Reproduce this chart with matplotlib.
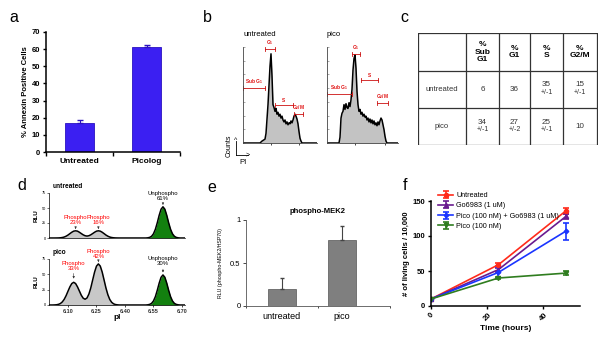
import numpy as np
import matplotlib.pyplot as plt

plt.rcParams['font.family'] = ['Liberation Sans', 'DejaVu Sans']
plt.rcParams['mathtext.default'] = 'regular'

W, H = 600, 338

# ---------------- data ----------------
# a: annexin
annexin_groups = ['Untreated', 'Picolog']
annexin_pct = [17, 61.5]
annexin_err = [1.8, 1.2]

# b: cell cycle histograms (PI channel, counts)
untr_ch = [0, 17, 19, 22, 23, 25, 27, 28, 29, 30, 31, 32, 33, 34, 35, 36, 37, 38, 39, 40,
           41, 42, 43, 44, 45, 46, 47, 48, 49, 50, 51, 52, 53, 54, 55, 56, 57, 58, 59, 74]
untr_cnt = [0, 0, 2, 4, 10, 40, 80, 93, 70, 40, 37, 33, 36, 30, 32, 28, 30, 26, 28, 24,
            22, 24, 20, 22, 19, 21, 20, 23, 21, 24, 28, 30, 28, 25, 20, 12, 5, 2, 0, 0]
pico_ch = [0, 12, 13, 14, 15, 16, 17, 18, 19, 20, 21, 22, 23, 24, 25, 26, 27, 28, 29, 30,
           31, 32, 33, 34, 35, 36, 37, 38, 39, 40, 41, 42, 43, 44, 45, 46, 47, 48, 49, 50,
           51, 52, 53, 54, 55, 56, 57, 58, 59, 60, 71]
pico_cnt = [0, 0, 6, 26, 31, 33, 40, 35, 41, 37, 36, 42, 38, 45, 56, 76, 88, 92, 78, 54,
            40, 33, 35, 30, 32, 28, 30, 27, 28, 24, 26, 22, 25, 21, 24, 20, 23, 19, 21, 18,
            22, 19, 23, 26, 24, 19, 14, 7, 2, 0, 0]
# gates: label, channel start, channel end, level
untr_gates = [('Sub G$_1$', 0, 22, 57), ('G$_1$', 22, 32, 98), ('S', 32, 50, 40), ('G$_2$/M', 51, 60, 30)]
pico_gates = [('Sub G$_1$', 0, 25, 51), ('G$_1$', 25, 33, 93), ('S', 34, 51, 66), ('G$_2$/M', 50, 61, 42)]

# c: table
tab_cols = ['%\nSub\nG1', '%\nG1', '%\nS', '%\nG2/M']
tab_rows = ['untreated', 'pico']
tab_vals = [['6', '36', '35', '15'], ['34', '27', '25', '10']]
tab_errs = [['', '', '+/-1', '+/-1'], ['+/-1', '+/-2', '+/-1', '']]

# d: isoelectric focusing profiles
pI = np.linspace(6.00, 6.72, 73)
rlu_untr = [0, 0, 0, 0, 0.05, 0.13, 0.35, 0.8, 1.6, 3.0, 4.9, 7.3, 9.6, 11.4, 12.0, 11.4, 9.6, 7.4,
            5.3, 3.8, 3.2, 3.8, 5.3, 7.4, 9.6, 11.4, 12.0, 11.4, 9.6, 7.3, 4.9, 3.0, 1.6, 0.8, 0.35,
            0.13, 0.05,
            0, 0, 0, 0, 0, 0, 0, 0, 0, 0, 0, 0, 0, 0, 0,
            0.3, 1.0, 2.9, 7.0, 14.5, 25.3, 37.8, 48.0, 52.0, 48.0, 37.8, 25.3, 14.5, 7.0, 2.9, 1.0, 0.3,
            0, 0, 0, 0]
rlu_pico = [0, 0, 0, 0.15, 0.41, 1.07, 2.4, 5.0, 9.2, 15.2, 22.5, 29.6, 35.0, 37.0, 35.0, 29.6, 22.8,
            15.9, 11.1, 9.4, 11.4, 17.8, 27.9, 40.9, 53.7, 63.4, 67.0, 63.4, 53.7, 40.7, 27.5, 16.7,
            9.0, 4.4, 1.9, 0.74, 0.27,
            0, 0, 0, 0, 0, 0, 0, 0, 0, 0, 0, 0, 0, 0, 0,
            0.3, 1.0, 2.7, 6.6, 13.6, 23.9, 35.6, 45.2, 49.0, 45.2, 35.6, 23.9, 13.6, 6.6, 2.7, 1.0, 0.3,
            0, 0, 0, 0]
# peak labels: text, pI, tip, text bottom, colour
untr_peaks = [('Phospho\n23%', 6.14, 15, 21, 'red'), ('Phospho\n16%', 6.26, 15, 21, 'red'),
              ('Unphospho\n61%', 6.60, 55, 62, 'black')]
pico_peaks = [('Phospho\n33%', 6.13, 43, 56, 'red'), ('Phospho\n42%', 6.26, 70, 75, 'red'),
              ('Unphospho\n30%', 6.60, 53, 63, 'black')]

# e: phospho-MEK2
mek_groups = ['untreated', 'pico']
mek_rlu = [0.20, 0.77]
mek_err = [0.12, 0.16]

# f: growth curves
time_h = [0, 24, 48]
growth_names = ['Untreated', 'Go6983 (1 uM)', 'Pico (100 nM) + Go6983 (1 uM)', 'Pico (100 nM)']
growth_vals = [[10, 59, 136], [10, 52, 128], [10, 48, 107], [10, 40, 47]]
growth_err = [[1, 2, 4], [1, 3, 4], [1, 8, 12], [1, 2, 3]]
growth_col = ['#ff2a1a', '#6a1b8f', '#1a35ff', '#2f7d1f']
growth_mk = ['o', '^', 'D', 'v']


def box(l, t, r, b):
  return [l / W, 1 - b / H, (r - l) / W, (b - t) / H]


def ftext(x, y, s, **kw):
  fig.text(x / W, 1 - y / H, s, **kw)


fig = plt.figure(figsize=(6, 3.38), dpi=100)
fig.patch.set_facecolor('white')

for lab, x, y in [('a', 14, 17), ('b', 207, 17), ('c', 404, 18), ('d', 22, 186), ('e', 212, 187), ('f', 405, 186)]:
  ftext(x, y, lab, fontsize=11.5, ha='center', va='center')

# ---------------- a ----------------
ax = fig.add_axes(box(46, 32, 180, 152))
xa = np.arange(len(annexin_groups))
ax.bar(xa, annexin_pct, width=0.42, color='#3b1ff2', edgecolor='#2a12c0', lw=0.6)
ax.errorbar(xa, annexin_pct, yerr=[[0, 0], annexin_err], fmt='none', ecolor='#2a12c0', capsize=2, lw=0.8)
ax.set_xlim(-0.5, 1.5)
ax.set_ylim(0, 70)
ax.set_yticks(range(0, 71, 10))
ax.set_xticks(xa)
ax.set_xticklabels(annexin_groups, fontweight='bold', fontsize=6)
ax.tick_params(axis='x', length=0, pad=4)
ax.set_xticks([-0.5, 0.5, 1.5], minor=True)
ax.tick_params(axis='x', which='minor', length=3, width=1)
ax.tick_params(axis='y', labelsize=5.5, length=2.5, width=1, pad=1.5)
for t in ax.get_yticklabels():
  t.set_fontweight('bold')
ax.set_ylabel('% Annexin Positive Cells', fontsize=5.5, fontweight='bold', labelpad=2)
for s in ['top', 'right']:
  ax.spines[s].set_visible(False)
for s in ['left', 'bottom']:
  ax.spines[s].set_linewidth(1.1)

# ---------------- b ----------------
def cell_hist(rect, ch, cnt, gates, xmax, ticks, title):
  ax = fig.add_axes(box(*rect))
  ax.fill_between(ch, cnt, color='#c3c3c3', lw=0)
  ax.plot(ch, cnt, color='black', lw=1.1)
  ax.set_xlim(0, xmax)
  ax.set_ylim(0, 100)
  for s in ['top', 'right']:
    ax.spines[s].set_visible(False)
  for s in ['left', 'bottom']:
    ax.spines[s].set_linewidth(0.6)
    ax.spines[s].set_color('#444444')
  ax.set_yticks(np.arange(0, 101, 14.3))
  ax.tick_params(axis='y', direction='in', length=1.5, width=0.4, labelleft=False, colors='#666666')
  ax.set_xticks(ticks)
  ax.tick_params(axis='x', direction='out', length=1.5, width=0.5, labelbottom=False)
  for name, x0, x1, lev in gates:
    ax.plot([x0, x1], [lev, lev], color='#cc1111', lw=0.6, clip_on=False)
    for xx in (x0, x1):
      ax.plot([xx, xx], [lev - 2, lev + 2], color='#cc1111', lw=0.6, clip_on=False)
    ax.text((x0 + x1) / 2, lev + 2, name, color='#e01010', fontsize=3.5, fontweight='bold',
            ha='center', va='bottom', clip_on=False)
  ax.text(0, 110, title, fontsize=5.5, ha='left', va='bottom')
  return ax


cell_hist((243, 47, 317, 143), untr_ch, untr_cnt, untr_gates, 74, [28, 56], 'untreated')
cell_hist((327, 47, 398, 143), pico_ch, pico_cnt, pico_gates, 71, [28, 58], 'pico')

# Counts / PI arrows
fig.add_artist(plt.Line2D([236 / W, 236 / W], [1 - 155 / H, 1 - 141 / H], color='black', lw=0.6))
fig.add_artist(plt.Line2D([236 / W, 248 / W], [1 - 155 / H, 1 - 155 / H], color='black', lw=0.6))
ftext(236, 140, '^', fontsize=5, ha='center', va='center')
ftext(248, 155, '>', fontsize=5, ha='center', va='center')
ftext(229, 146, 'Counts', fontsize=5, rotation=90, ha='center', va='center')
ftext(243, 163, 'PI', fontsize=5.5, ha='center', va='center')

# ---------------- c ----------------
axc = fig.add_axes(box(418, 33, 598, 145))
axc.set_xlim(418, 598)
axc.set_ylim(145, 33)
axc.axis('off')
col_x = [418, 466, 499, 530, 563, 597]
row_y = [33, 71, 108, 145]
for x in col_x:
  axc.plot([x, x], [row_y[0], row_y[-1]], color='#333333', lw=0.9)
for y in row_y:
  axc.plot([col_x[0], col_x[-1]], [y, y], color='#333333', lw=0.9)
for j, head in enumerate(tab_cols):
  axc.text((col_x[j + 1] + col_x[j + 2]) / 2, (row_y[0] + row_y[1]) / 2, head, fontsize=6,
           fontweight='bold', ha='center', va='center', linespacing=1.05)
for i, rname in enumerate(tab_rows):
  yc = (row_y[i + 1] + row_y[i + 2]) / 2
  axc.text((col_x[0] + col_x[1]) / 2, yc, rname, fontsize=5.5, ha='center', va='center', color='#333333')
  for j in range(len(tab_cols)):
    xc = (col_x[j + 1] + col_x[j + 2]) / 2
    if tab_errs[i][j]:
      axc.text(xc, yc - 1, tab_vals[i][j], fontsize=5.8, ha='center', va='bottom', color='#333333')
      axc.text(xc, yc - 0.5, tab_errs[i][j], fontsize=5, ha='center', va='top', color='#333333')
    else:
      axc.text(xc, yc, tab_vals[i][j], fontsize=5.8, ha='center', va='center', color='#333333')

# ---------------- d ----------------
def ief(rect, rlu, peaks, title, bottom):
  ax = fig.add_axes(box(*rect))
  low = pI <= 6.45
  ax.fill_between(pI[low], np.array(rlu)[low], color='#c8c8c8', lw=0)
  ax.fill_between(pI[~low], np.array(rlu)[~low], color='#13800f', lw=0)
  ax.plot(pI, rlu, color='black', lw=1.1)
  ax.set_xlim(6.0, 6.716)
  ax.set_ylim(0, 75)
  ax.set_yticks([0, 25, 50, 75])
  ax.tick_params(axis='y', labelsize=2.8, length=1.2, width=0.4, pad=1)
  ax.set_xticks([6.10, 6.25, 6.40, 6.55, 6.70])
  if bottom:
    ax.set_xticklabels(['6.10', '6.25', '6.40', '6.55', '6.70'])
    ax.tick_params(axis='x', labelsize=4, length=1.5, width=0.5, pad=1.5)
    for t in ax.get_xticklabels():
      t.set_fontweight('bold')
      t.set_color('#333333')
    ax.set_xlabel('pI', fontsize=6, fontweight='bold', labelpad=0)
  else:
    ax.tick_params(axis='x', length=0, labelbottom=False)
  for s in ['top', 'right']:
    ax.spines[s].set_visible(False)
  for s in ['left', 'bottom']:
    ax.spines[s].set_linewidth(0.5)
  ax.set_ylabel('RLU', fontsize=4.5, fontweight='bold', labelpad=2)
  for txt, x, tip, ty, c in peaks:
    ax.annotate(txt, xy=(x, tip), xytext=(x, ty), fontsize=4.3, color=c, ha='center', va='bottom',
                linespacing=1.0, annotation_clip=False,
                arrowprops=dict(arrowstyle='-|>', color='#333333', lw=0.4, mutation_scale=3,
                                shrinkA=0, shrinkB=0))
  ax.text(6.02, 80, title, fontsize=4.8, fontweight='bold', ha='left', va='bottom')
  return ax


ief((49, 193, 185, 238), rlu_untr, untr_peaks, 'untreated', False)
ief((49, 259, 185, 305), rlu_pico, pico_peaks, 'pico', True)

# ---------------- e ----------------
ax = fig.add_axes(box(246, 220, 390, 306))
xe = np.arange(len(mek_groups))
ax.bar(xe, mek_rlu, width=0.47, color='#7f7f7f', edgecolor='#555555', lw=0.5)
ax.errorbar(xe, mek_rlu, yerr=[[0, 0], mek_err], fmt='none', ecolor='#444444', capsize=1.2, lw=0.8)
ax.set_xlim(-0.6, 1.8)
ax.set_ylim(0, 1)
ax.set_yticks([0, 0.5, 1])
ax.set_yticklabels(['0', '0.5', '1'])
ax.tick_params(axis='y', labelsize=5.5, length=2, width=0.5, pad=2)
ax.set_xticks(xe)
ax.set_xticklabels(mek_groups, fontsize=6.5)
ax.tick_params(axis='x', length=0, pad=4)
ax.set_xticks([-0.6, 0.6, 1.8], minor=True)
ax.tick_params(axis='x', which='minor', length=1.5, width=0.5)
for s in ['top', 'right']:
  ax.spines[s].set_visible(False)
for s in ['left', 'bottom']:
  ax.spines[s].set_linewidth(0.6)
  ax.spines[s].set_color('#555555')
ax.set_title('phospho-MEK2', fontsize=5.5, fontweight='bold', pad=5)
ax.set_ylabel('RLU (phospho-MEK2/HSP70)', fontsize=3.8, labelpad=5)

# ---------------- f ----------------
ax = fig.add_axes(box(431, 201, 580, 306))
for name, v, e, c, m in zip(growth_names, growth_vals, growth_err, growth_col, growth_mk):
  ax.errorbar(time_h, v, yerr=e, color=c, marker=m, ms=3 if m != 'D' else 2.3, lw=1.2,
              capsize=2.2, elinewidth=1.2, capthick=1.2, label=name)
ax.set_xlim(0, 53)
ax.set_ylim(0, 150)
ax.set_xticks([0, 20, 40])
ax.set_yticks([0, 50, 100, 150])
ax.tick_params(axis='both', labelsize=5.5, length=2.5, width=1, pad=1.5)
ax.tick_params(axis='x', labelrotation=45)
for t in ax.get_xticklabels() + ax.get_yticklabels():
  t.set_fontweight('bold')
ax.set_xlabel('Time (hours)', fontsize=6, fontweight='bold', labelpad=2)
ax.set_ylabel('# of living cells / 10,000', fontsize=5.5, fontweight='bold', labelpad=2)
for s in ['top', 'right']:
  ax.spines[s].set_visible(False)
for s in ['left', 'bottom']:
  ax.spines[s].set_linewidth(1.1)
leg = ax.legend(loc='upper left', bbox_to_anchor=(0.02, 1.12), fontsize=5.2, frameon=False,
                handlelength=2.2, handletextpad=0.4, labelspacing=0.45, borderpad=0)

fig.savefig('out.png', dpi=100)
